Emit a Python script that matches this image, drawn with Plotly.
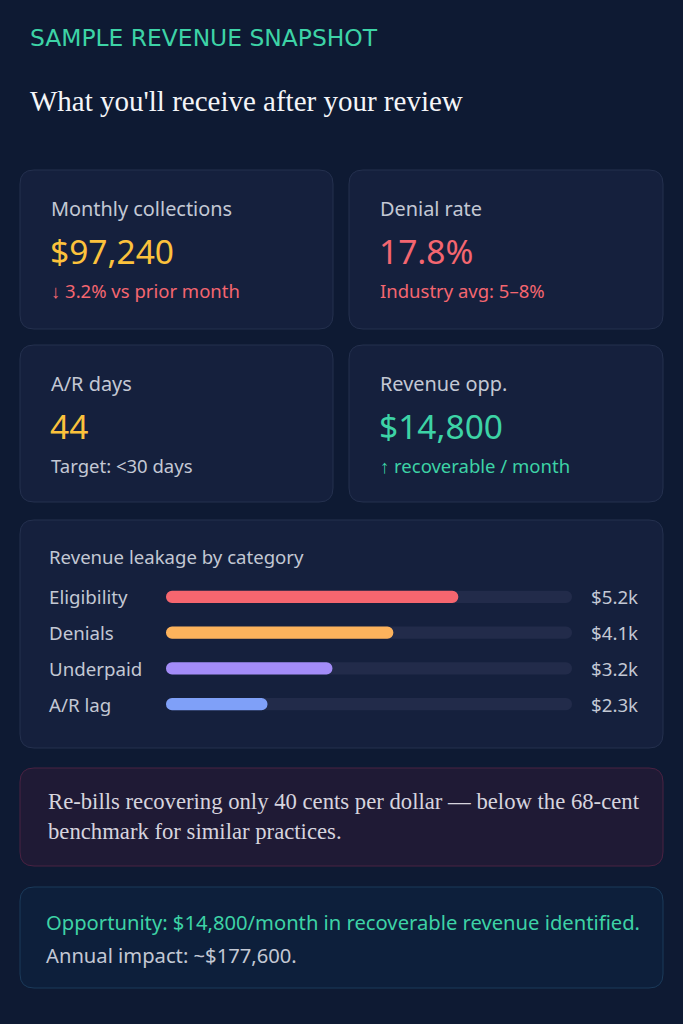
import plotly.graph_objects as go

W, H = 683, 1024

# ---- data ----
kicker = "SAMPLE REVENUE SNAPSHOT"
headline = "What you'll receive after your review"

kpi_titles = ["Monthly collections", "Denial rate", "A/R days", "Revenue opp."]
kpi_values = ["$97,240", "17.8%", "44", "$14,800"]
kpi_notes = ["↓ 3.2% vs prior month", "Industry avg: 5–8%", "Target: <30 days", "↑ recoverable / month"]

leak_title = "Revenue leakage by category"
leak_categories = ["Eligibility", "Denials", "Underpaid", "A/R lag"]
leak_fill_pct = [72, 56, 41, 25]
leak_labels = ["$5.2k", "$4.1k", "$3.2k", "$2.3k"]

alert_text = "Re-bills recovering only 40 cents per dollar — below the 68-cent<br>benchmark for similar practices."
opp_line = "Opportunity: $14,800/month in recoverable revenue identified."
impact_line = "Annual impact: ~$177,600."

# ---- style ----
BG = "#0e1a33"
CARD = "#15203d"
CARD_LINE = "#24304e"
TEAL = "#3dd3a6"
YELLOW = "#fcc23c"
RED = "#f46670"
MUTED = "#c3c8d4"
SANS = "Noto Sans"
SERIF = "Liberation Serif"

kpi_value_colors = [YELLOW, RED, YELLOW, TEAL]
kpi_note_colors = [RED, RED, MUTED, TEAL]
bar_colors = ["#f6666f", "#fdb35c", "#a38cf8", "#7fa0f8"]
TRACK = "#222b4a"

BAR_X0, BAR_X1 = 166, 572     # track ends, px


def px(x):
    return x / W


def py(y):
    return 1 - y / H


def rounded_box(x0, y0, x1, y1, r, fill, line):
    # rounded rectangle in paper coords, measured in pixels
    pts = [
        f"M {px(x0 + r)},{py(y0)}",
        f"L {px(x1 - r)},{py(y0)}",
        f"Q {px(x1)},{py(y0)} {px(x1)},{py(y0 + r)}",
        f"L {px(x1)},{py(y1 - r)}",
        f"Q {px(x1)},{py(y1)} {px(x1 - r)},{py(y1)}",
        f"L {px(x0 + r)},{py(y1)}",
        f"Q {px(x0)},{py(y1)} {px(x0)},{py(y1 - r)}",
        f"L {px(x0)},{py(y0 + r)}",
        f"Q {px(x0)},{py(y0)} {px(x0 + r)},{py(y0)} Z",
    ]
    return dict(type="path", xref="paper", yref="paper", path=" ".join(pts),
                fillcolor=fill, line=dict(color=line, width=1), layer="below")


def pill_bar(values, colors):
    # a non-zero base makes plotly round both ends of the bar
    return go.Bar(
        y=leak_categories, x=values, base=1e-4,
        orientation="h", width=0.34,
        marker=dict(color=colors, cornerradius=6, line=dict(width=0)),
        hoverinfo="skip", showlegend=False,
    )


fig = go.Figure()
fig.add_trace(pill_bar([100] * len(leak_categories), TRACK))
fig.add_trace(pill_bar(leak_fill_pct, bar_colors))

shapes = []
ann = []

# header
ann.append(dict(text=kicker, x=px(28), y=py(38), font=dict(family="DejaVu Sans", size=23.4, color=TEAL)))
ann.append(dict(text=headline, x=px(28), y=py(101), font=dict(family=SERIF, size=29, color="#f4f5f8")))

# KPI cards
card_boxes = [(20, 170, 333, 329), (349, 170, 663, 329), (20, 345, 333, 502), (349, 345, 663, 502)]
for i, (x0, y0, x1, y1) in enumerate(card_boxes):
    shapes.append(rounded_box(x0, y0, x1, y1, 14, CARD, CARD_LINE))
    tx = x0 + 30
    ann.append(dict(text=kpi_titles[i], x=px(tx - 1), y=py(y0 + 38), font=dict(family=SANS, size=19.9, color=MUTED)))
    ann.append(dict(text=kpi_values[i], x=px(tx - 2), y=py(y0 + 81), font=dict(family=SANS, size=33.5, color=kpi_value_colors[i])))
    ann.append(dict(text=kpi_notes[i], x=px(tx - 1), y=py(y0 + 120), font=dict(family=SANS, size=18.5, color=kpi_note_colors[i])))

# leakage card
shapes.append(rounded_box(20, 520, 663, 748, 14, CARD, CARD_LINE))
ann.append(dict(text=leak_title, x=px(47), y=py(556), font=dict(family=SANS, size=18.6, color=MUTED)))
for cat, lab in zip(leak_categories, leak_labels):
    ann.append(dict(text=cat, x=px(47), y=cat, yref="y", font=dict(family=SANS, size=18.7, color=MUTED)))
    ann.append(dict(text=lab, x=px(640), y=cat, yref="y", xanchor="right", font=dict(family=SANS, size=18.7, color=MUTED)))

# alert card
shapes.append(rounded_box(20, 768, 663, 866, 14, "#1f1a35", "#4a2242"))
ann.append(dict(text=alert_text, x=px(46), y=py(816), font=dict(family=SERIF, size=22.7, color="#d6d4de")))

# opportunity card
shapes.append(rounded_box(20, 887, 663, 988, 14, "#0d1f3b", "#1b3a5a"))
ann.append(dict(text=opp_line, x=px(44), y=py(922), font=dict(family=SANS, size=20.2, color=TEAL)))
ann.append(dict(text=impact_line, x=px(44), y=py(955), font=dict(family=SANS, size=20.2, color=MUTED)))

for a in ann:
    a.setdefault("xref", "paper")
    a.setdefault("yref", "paper")
    a.setdefault("xanchor", "left")
    a.setdefault("yanchor", "middle")
    a["showarrow"] = False
    a["align"] = "left"

fig.update_layout(
    width=W, height=H,
    margin=dict(l=0, r=0, t=0, b=0),
    paper_bgcolor=BG, plot_bgcolor="rgba(0,0,0,0)",
    barmode="overlay",
    shapes=shapes, annotations=ann,
    xaxis=dict(domain=[px(BAR_X0), px(BAR_X1)], range=[0, 100], visible=False, fixedrange=True),
    yaxis=dict(domain=[py(722), py(579)], autorange="reversed", visible=False, fixedrange=True),
)

fig.write_html(
    "out.html",
    config={"displayModeBar": False},
    post_script="document.body.style.margin='0';document.body.style.background='%s';" % BG,
)
